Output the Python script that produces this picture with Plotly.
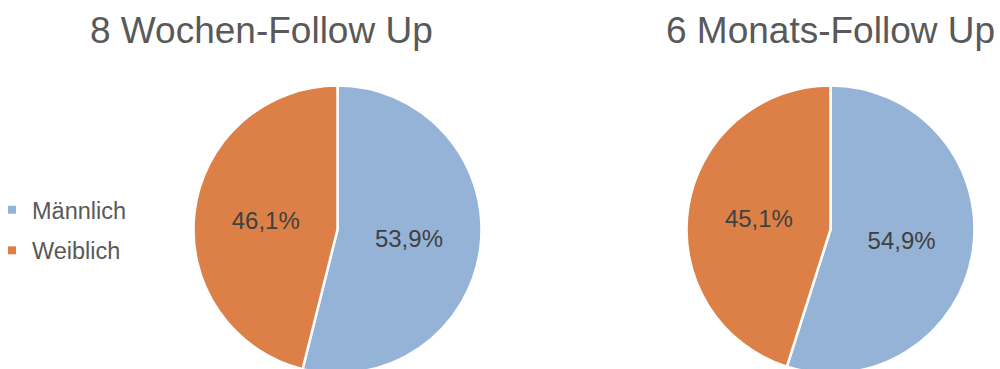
import plotly.graph_objects as go

# Geschlechterverteilung zu beiden Follow-Up-Zeitpunkten (Anteile in %)
categories = ["Männlich", "Weiblich"]
week8_values = [53.9, 46.1]
month6_values = [54.9, 45.1]
titles = ["8 Wochen-Follow Up", "6 Monats-Follow Up"]

colors = ["#95B3D7", "#DD8047"]
title_color = "#595959"
label_color = "#404040"
font_family = "Liberation Sans, Arial, sans-serif"

W, H = 1000, 376


def pie_domain(cx, cy, r):
    # pixel centre/radius -> paper domain (y measured from the top)
    return dict(
        x=[(cx - r) / W, (cx + r) / W],
        y=[(H - (cy + r)) / H, (H - (cy - r)) / H],
    )


fig = go.Figure()

for vals, dom in [
    (week8_values, pie_domain(337.5, 229.5, 144)),
    (month6_values, pie_domain(830.5, 229.5, 144)),
]:
    fig.add_trace(go.Pie(
        labels=categories,
        values=vals,
        sort=False,
        direction="clockwise",
        rotation=0,
        domain=dom,
        marker=dict(colors=colors, line=dict(color="white", width=2.5)),
        texttemplate="%{percent:.1%}",
        textposition="inside",
        insidetextorientation="horizontal",
        textfont=dict(family=font_family, size=24, color=label_color),
        showlegend=False,
        hoverinfo="label+percent",
    ))

# legend entries with small square swatches
for name, col in zip(categories, colors):
    fig.add_trace(go.Scatter(
        x=[None], y=[None], mode="markers", name=name,
        legendgroup=name,
        marker=dict(symbol="square", size=8, color=col),
    ))

for text, xc in zip(titles, [261, 830]):
    fig.add_annotation(
        text=text, x=xc / W, y=1 - 31 / H, xref="paper", yref="paper",
        xanchor="center", yanchor="middle", showarrow=False,
        font=dict(family=font_family, size=37, color=title_color),
    )

fig.update_layout(
    width=W, height=H,
    margin=dict(l=0, r=0, t=0, b=0, autoexpand=False),
    paper_bgcolor="white", plot_bgcolor="white",
    separators=",.",
    xaxis=dict(visible=False), yaxis=dict(visible=False),
    legend=dict(
        x=-8 / W, y=1 - 188 / H, xanchor="left", yanchor="top",
        font=dict(family=font_family, size=23.5, color=title_color),
        tracegroupgap=7, itemclick=False, itemdoubleclick=False,
        bgcolor="rgba(0,0,0,0)",
    ),
)

fig.write_html(
    "out.html",
    post_script="document.documentElement.style.overflow='hidden';"
                "document.body.style.overflow='hidden';"
                "document.body.style.margin='0';",
)
